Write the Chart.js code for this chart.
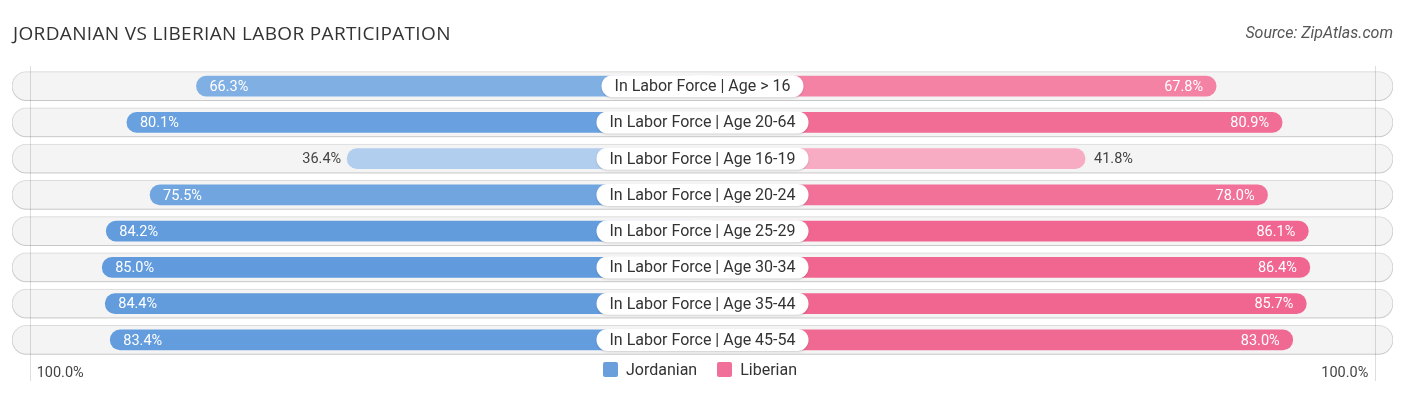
<!DOCTYPE html>
<html>
<head>
<title>Jordanian vs Liberian Labor Participation</title>
<script src="https://cdn.jsdelivr.net/npm/chart.js"></script>
<style>
    body { margin: 0; background: #fff; font-family: Roboto, sans-serif; }
    #wrap { position: relative; width: 1406px; height: 395px; overflow: hidden; }
    #title { position: absolute; left: 13px; top: 20px; font-family: 'Open Sans', sans-serif; font-size: 19px; color: #333; letter-spacing: 0.35px; }
    #source { position: absolute; right: 13px; top: 23px; font-size: 16px; font-style: italic; color: #555; }
    #legend { position: absolute; left: 0; top: 360px; width: 1400px; text-align: center; font-size: 16px; color: #333; }
    .sw { display: inline-block; width: 15px; height: 15px; border-radius: 2px; vertical-align: -2px; margin-right: 8px; }
    .item { display: inline-block; margin: 0 8px; }
    canvas { position: absolute; left: 0; top: 0; }
</style>
</head>
<body>
<div id="wrap">
    <canvas id="chart" width="1406" height="395"></canvas>
    <div id="title">JORDANIAN VS LIBERIAN LABOR PARTICIPATION</div>
    <div id="source">Source: ZipAtlas.com</div>
    <div id="legend">
        <span class="item"><span class="sw" style="background:#6a9fdc"></span>Jordanian</span>
        <span class="item"><span class="sw" style="background:#f0709a"></span>Liberian</span>
    </div>
</div>

<script>
    // data
    var categories = [
        'In Labor Force | Age > 16',
        'In Labor Force | Age 20-64',
        'In Labor Force | Age 16-19',
        'In Labor Force | Age 20-24',
        'In Labor Force | Age 25-29',
        'In Labor Force | Age 30-34',
        'In Labor Force | Age 35-44',
        'In Labor Force | Age 45-54'
    ];
    var jordanian = [66.3, 80.1, 36.4, 75.5, 84.2, 85.0, 84.4, 83.4];
    var liberian = [67.8, 80.9, 41.8, 78.0, 86.1, 86.4, 85.7, 83.0];
    var axisLabel = '100.0%';

    // the middle of the chart is taken by the row labels, bars start at +-GAP
    var GAP = 34.1;
    var AXIS = 137;
    var EDGE = 133.5; // where the 100% marker lines sit

    function shade(rgb, v) {
        var t = Math.max(0, Math.min(1, (v - 30) / 55));
        var k = 0.42 + 0.58 * t;
        return 'rgb(' + rgb.map(function(c) { return Math.round(255 - (255 - c) * k); }).join(',') + ')';
    }
    var blue = [97, 155, 221];
    var pink = [240, 102, 145];

    var rowPlugin = {
        id: 'rows',
        beforeDatasetDraw: function(chart, args) {
            if (args.index === 0) {
                var c = chart.ctx;
                c.save();
                c.shadowColor = 'rgba(0,0,0,0.18)';
                c.shadowBlur = 3;
                c.shadowOffsetY = 1;
            }
        },
        afterDatasetDraw: function(chart, args) {
            if (args.index === 0) chart.ctx.restore();
        },
        afterDatasetsDraw: function(chart) {
            var c = chart.ctx;
            var x = chart.scales.x, y = chart.scales.y;
            var area = chart.chartArea;
            var xl = x.getPixelForValue(-EDGE);
            var xr = x.getPixelForValue(EDGE);
            var xm = x.getPixelForValue(0);

            c.save();
            c.strokeStyle = 'rgba(0,0,0,0.13)';
            c.lineWidth = 1;
            [xl, xr].forEach(function(px) {
                c.beginPath();
                c.moveTo(Math.round(px) + 0.5, area.top - 2);
                c.lineTo(Math.round(px) + 0.5, area.bottom + 23);
                c.stroke();
            });

            c.textBaseline = 'middle';
            c.font = '14.5px Roboto';
            c.fillStyle = '#444';
            c.textAlign = 'left';
            c.fillText(axisLabel, xl + 7, area.bottom + 15);
            c.textAlign = 'right';
            c.fillText(axisLabel, xr - 7, area.bottom + 15);

            categories.forEach(function(name, i) {
                var py = y.getPixelForValue(i);
                var jv = jordanian[i], lv = liberian[i];
                var jx = x.getPixelForValue(-(GAP + jv));
                var lx = x.getPixelForValue(GAP + lv);
                c.font = '14.5px Roboto';
                if (jv >= 50) {
                    c.fillStyle = '#fff'; c.textAlign = 'left';
                    c.fillText(jv.toFixed(1) + '%', jx + 13, py + 1);
                } else {
                    c.fillStyle = '#444'; c.textAlign = 'right';
                    c.fillText(jv.toFixed(1) + '%', jx - 6, py + 1);
                }
                if (lv >= 50) {
                    c.fillStyle = '#fff'; c.textAlign = 'right';
                    c.fillText(lv.toFixed(1) + '%', lx - 13, py + 1);
                } else {
                    c.fillStyle = '#444'; c.textAlign = 'left';
                    c.fillText(lv.toFixed(1) + '%', lx + 9, py + 1);
                }

                c.font = '16px Roboto';
                var w = c.measureText(name).width + 26;
                var h = 22;
                c.save();
                c.shadowColor = 'rgba(0,0,0,0.15)';
                c.shadowBlur = 2;
                c.shadowOffsetY = 1;
                c.fillStyle = '#fff';
                c.beginPath();
                c.roundRect(xm - w / 2, py - h / 2, w, h, h / 2);
                c.fill();
                c.restore();
                c.fillStyle = '#333';
                c.textAlign = 'center';
                c.fillText(name, xm, py + 1);
            });
            c.restore();
        }
    };

    var ctx = document.getElementById('chart').getContext('2d');
    var chart = new Chart(ctx, {
        type: 'bar',
        data: {
            labels: categories,
            datasets: [{
                label: 'row',
                data: categories.map(function() { return [-AXIS, AXIS]; }),
                backgroundColor: '#f4f4f4',
                borderColor: '#e2e2e2',
                borderWidth: 1,
                borderRadius: 15,
                borderSkipped: false,
                barThickness: 29,
                grouped: false,
                order: 3
            }, {
                label: 'Jordanian',
                data: jordanian.map(function(v) { return [-(GAP + v), 0]; }),
                backgroundColor: jordanian.map(function(v) { return shade(blue, v); }),
                borderWidth: 0,
                borderRadius: 10,
                borderSkipped: false,
                barThickness: 20,
                grouped: false,
                order: 1
            }, {
                label: 'Liberian',
                data: liberian.map(function(v) { return [0, GAP + v]; }),
                backgroundColor: liberian.map(function(v) { return shade(pink, v); }),
                borderWidth: 0,
                borderRadius: 10,
                borderSkipped: false,
                barThickness: 20,
                grouped: false,
                order: 1
            }]
        },
        options: {
            indexAxis: 'y',
            responsive: false,
            animation: false,
            layout: { padding: { top: 68, bottom: 37, left: 12, right: 13 } },
            scales: {
                x: { display: false, min: -AXIS, max: AXIS },
                y: { display: false }
            },
            plugins: {
                legend: { display: false },
                tooltip: { enabled: false }
            }
        },
        plugins: [rowPlugin]
    });
</script>
</body>
</html>
